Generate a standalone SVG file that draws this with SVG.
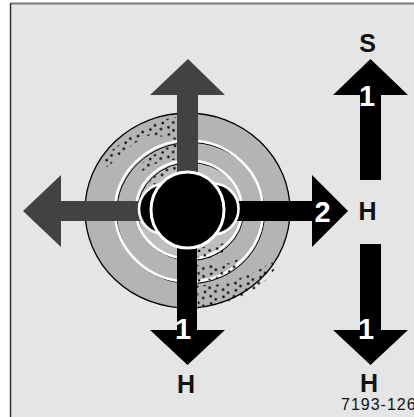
<svg xmlns="http://www.w3.org/2000/svg" width="414" height="417" viewBox="0 0 414 417">
  <defs>
    <style>
      .lbl { font-family: "Liberation Sans", Arial, sans-serif; font-weight: bold; text-anchor: middle; }
      .num { fill: #ffffff; font-size: 29px; }
      .dir { fill: #111111; font-size: 25px; }
      .code { font-family: "Liberation Sans", Arial, sans-serif; font-size: 16px; letter-spacing: 1px; fill: #111111; }
      .grey-arrow { fill: #424242; }
      .black-arrow { fill: #000000; }
      .ring-white { fill: none; stroke: #ffffff; stroke-width: 2.6; }
      .ring-shadow { fill: none; stroke: #000000; stroke-width: 1; }
    </style>
    <pattern id="dots" width="14" height="13" patternUnits="userSpaceOnUse" patternTransform="rotate(-28)">
      <circle cx="2" cy="3" r="1.3" fill="#000"/>
      <circle cx="8" cy="1.5" r="1.3" fill="#000"/>
      <circle cx="11.5" cy="7.5" r="1.3" fill="#000"/>
      <circle cx="5" cy="9.5" r="1.3" fill="#000"/>
    </pattern>
  </defs>

  <!-- panel -->
  <rect x="0" y="0" width="414" height="417" fill="#ffffff"/>
  <rect x="10" y="3.5" width="404" height="414" fill="#e5e5e5"/>
  <line x1="10" y1="3.5" x2="414" y2="3.5" stroke="#7a7a7a" stroke-width="2"/>
  <line x1="10.5" y1="3" x2="10.5" y2="417" stroke="#333333" stroke-width="1.5"/>

  <!-- concentric target -->
  <g id="target">
    <ellipse cx="187.5" cy="210.5" rx="102.5" ry="97.5" fill="#b4b4b4" stroke="#000" stroke-width="1.3"/>
    <ellipse cx="190.5" cy="213" rx="74" ry="70.5" class="ring-shadow"/>
    <ellipse cx="189" cy="211" rx="74" ry="70.5" class="ring-white"/>
    <ellipse cx="189" cy="209.5" rx="53" ry="49" fill="#bebebe"/>
    <ellipse cx="190.5" cy="211.5" rx="53" ry="49" class="ring-shadow"/>
    <ellipse cx="189" cy="209.5" rx="53" ry="49" class="ring-white"/>

    <!-- stippled streaks -->
    <polygon fill="url(#dots)" points="100,165 112,150 128,138 145,127 160,120 176,117 176,140 165,137 150,135 135,143 120,155 108,167"/>
    <polygon fill="url(#dots)" points="137,170 145,160 158,152 170,146 177,144 177,160 165,160 150,166 140,173"/>
    <polygon fill="url(#dots)" points="150,182 158,172 170,166 177,164 177,172 165,176 155,185"/>
    <polygon fill="url(#dots)" points="197,248 210,246 225,243 223,252 210,258 198,260"/>
    <polygon fill="url(#dots)" points="197,265 215,264 232,263 240,257 237,268 220,278 198,282"/>
    <polygon fill="url(#dots)" points="197,285 215,285 235,280 255,272 272,262 276,268 262,285 240,298 215,305 198,307"/>
  </g>

  <!-- direction arrows -->
  <g id="connectors">
    <polygon id="arrow-up" class="grey-arrow" points="177,175 177,95 150,95 188,59 225,95 198,95 198,175"/>
    <polygon id="arrow-left" class="grey-arrow" points="150,201 61,201 61,175 23,211 61,247 61,221 150,221"/>
    <polygon id="arrow-right" class="black-arrow" points="225,201 312,201 312,175 348,211 312,247 312,221 225,221"/>
    <polygon id="arrow-down" class="black-arrow" points="177,240 177,330 150,330 187.5,365 225,330 197,330 197,240"/>
    <polygon id="arrow-s" class="black-arrow" points="360,180 360,95 333,95 370.5,59 408,95 381,95 381,180"/>
    <polygon id="arrow-h" class="black-arrow" points="360,244 360,330 333,330 370.5,365 408,330 381,330 381,244"/>
  </g>

  <!-- central knob -->
  <g id="knob">
    <circle cx="164" cy="209" r="25" fill="#000" stroke="#fff" stroke-width="2.6"/>
    <circle cx="213" cy="209" r="25.5" fill="#000" stroke="#fff" stroke-width="2.6"/>
    <ellipse cx="187.5" cy="210" rx="36.5" ry="38" fill="#000" stroke="#fff" stroke-width="3"/>
  </g>

  <!-- labels -->
  <g id="labels">
    <text class="lbl num" x="183" y="339">1</text>
    <text class="lbl num" x="322.5" y="222">2</text>
    <text class="lbl num" x="367" y="106">1</text>
    <text class="lbl num" x="366" y="339">1</text>
    <text class="lbl dir" x="367.5" y="52">S</text>
    <text class="lbl dir" x="367.5" y="220">H</text>
    <text class="lbl dir" x="186" y="393">H</text>
    <text class="lbl dir" x="369" y="392">H</text>
    <text class="code" x="341" y="410">7193-126</text>
  </g>
</svg>
